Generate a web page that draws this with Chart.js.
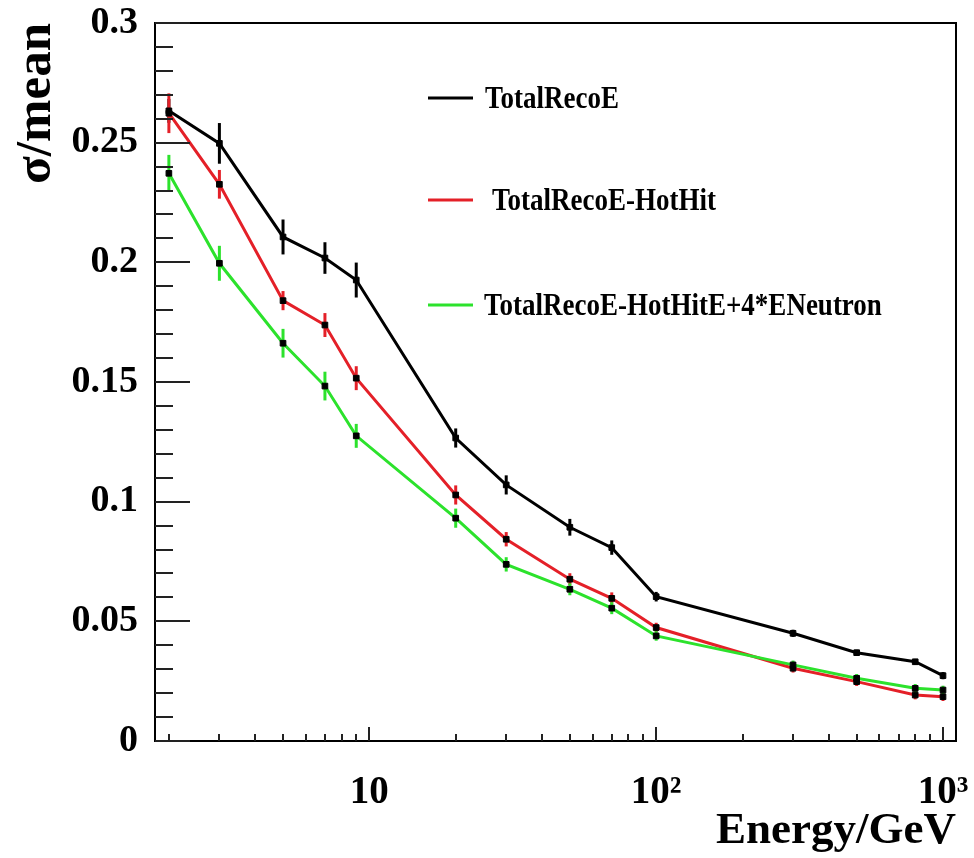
<!DOCTYPE html>
<html>
<head>
<meta charset="utf-8">
<script src="https://cdn.jsdelivr.net/npm/chart.js@4.4.1/dist/chart.umd.min.js"></script>
<style>
  html, body { margin: 0; padding: 0; background: #ffffff; }
  #wrap { width: 974px; height: 858px; }
</style>
</head>
<body>
<div id="wrap"><canvas id="c" width="974" height="858"></canvas></div>
<script>
// ---- data ----
const energies = [2, 3, 5, 7, 9, 20, 30, 50, 70, 100, 300, 500, 800, 1000];

const totalRecoE       = [0.2633, 0.2497, 0.2106, 0.2018, 0.1926, 0.1266, 0.1070, 0.0893, 0.0808, 0.0603, 0.0450, 0.0369, 0.0331, 0.0273];
const totalRecoEErr    = [0.0050, 0.0085, 0.0073, 0.0066, 0.0073, 0.0040, 0.0040, 0.0035, 0.0030, 0.0020, 0.0015, 0.0012, 0.0012, 0.0015];

const minusHotHit      = [0.2623, 0.2326, 0.1840, 0.1738, 0.1516, 0.1028, 0.0843, 0.0676, 0.0596, 0.0474, 0.0304, 0.0248, 0.0192, 0.0185];
const minusHotHitErr   = [0.0083, 0.0060, 0.0040, 0.0050, 0.0050, 0.0040, 0.0030, 0.0025, 0.0025, 0.0020, 0.0018, 0.0018, 0.0018, 0.0018];

const plusNeutron      = [0.2372, 0.1996, 0.1662, 0.1483, 0.1275, 0.0931, 0.0738, 0.0634, 0.0555, 0.0439, 0.0318, 0.0262, 0.0220, 0.0213];
const plusNeutronErr   = [0.0077, 0.0073, 0.0060, 0.0060, 0.0050, 0.0040, 0.0030, 0.0025, 0.0025, 0.0020, 0.0018, 0.0018, 0.0018, 0.0018];

const seriesNames = ['TotalRecoE', 'TotalRecoE-HotHit', 'TotalRecoE-HotHitE+4*ENeutron'];

const yTickValues = [0, 0.05, 0.1, 0.15, 0.2, 0.25, 0.3];
const yTickLabels = ['0', '0.05', '0.1', '0.15', '0.2', '0.25', '0.3'];
const xTickValues = [10, 100, 1000];
const xTickLabels = ['10', '10\u00B2', '10\u00B3'];
const yMinorStep = 0.01;
const xMinorValues = [2,3,4,5,6,7,8,9,20,30,40,50,60,70,80,90,200,300,400,500,600,700,800,900];

const xTitle = 'Energy/GeV';
const yTitle = '\u03C3/mean';

// ---- styling ----
const BLACK = '#000000';
const RED = 'rgb(228,32,40)';
const GREEN = 'rgb(44,226,44)';
const SERIF = '"Liberation Serif", "DejaVu Serif", serif';

function pts(vals) { return vals.map((v, i) => ({ x: energies[i], y: v })); }

const errPlugin = {
  id: 'errbars',
  beforeDatasetsDraw(chart) {
    const ctx = chart.ctx;
    const ys = chart.scales.y, xs = chart.scales.x;
    chart.data.datasets.forEach(ds => {
      ctx.save();
      ctx.strokeStyle = ds.borderColor;
      ctx.lineWidth = 3;
      ds.data.forEach((p, i) => {
        const e = ds.errors[i];
        const px = xs.getPixelForValue(p.x);
        ctx.beginPath();
        ctx.moveTo(px, ys.getPixelForValue(p.y - e));
        ctx.lineTo(px, ys.getPixelForValue(p.y + e));
        ctx.stroke();
      });
      ctx.restore();
    });
  }
};

const framePlugin = {
  id: 'frame',
  afterDraw(chart) {
    const ctx = chart.ctx;
    const a = chart.chartArea;
    const ys = chart.scales.y, xs = chart.scales.x;
    ctx.save();
    ctx.strokeStyle = '#000';
    ctx.lineWidth = 2;
    ctx.strokeRect(a.left, a.top, a.right - a.left, a.bottom - a.top);
    ctx.lineWidth = 2;
    ctx.strokeStyle = '#222';
    // y ticks (inside, left)
    const nMinor = Math.round((ys.max - ys.min) / yMinorStep);
    for (let k = 0; k <= nMinor; k++) {
      const v = ys.min + k * yMinorStep;
      const py = Math.round(ys.getPixelForValue(v));
      const major = (k % 5 === 0);
      ctx.beginPath();
      ctx.moveTo(a.left, py);
      ctx.lineTo(a.left + (major ? 35 : 18), py);
      ctx.stroke();
    }
    // x ticks (inside, bottom)
    xTickValues.forEach(v => {
      const px = Math.round(xs.getPixelForValue(v));
      ctx.beginPath(); ctx.moveTo(px, a.bottom); ctx.lineTo(px, a.bottom - 14); ctx.stroke();
    });
    xMinorValues.forEach(v => {
      const px = Math.round(xs.getPixelForValue(v));
      ctx.beginPath(); ctx.moveTo(px, a.bottom); ctx.lineTo(px, a.bottom - 7); ctx.stroke();
    });
    ctx.restore();

    // legend
    const leg = [
      { name: seriesNames[0], color: BLACK, y: 98, tx: 485 },
      { name: seriesNames[1], color: RED, y: 200, tx: 492 },
      { name: seriesNames[2], color: GREEN, y: 305, tx: 484 }
    ];
    ctx.save();
    leg.forEach(l => {
      ctx.strokeStyle = l.color;
      ctx.lineWidth = 3;
      ctx.beginPath(); ctx.moveTo(428, l.y); ctx.lineTo(473, l.y); ctx.stroke();
      ctx.save();
      ctx.translate(l.tx, l.y + 10);
      ctx.scale(1, 1.18);
      ctx.fillStyle = '#000';
      ctx.font = 'bold 27px ' + SERIF;
      ctx.textBaseline = 'alphabetic';
      ctx.textAlign = 'left';
      ctx.fillText(l.name, 0, 0);
      ctx.restore();
    });
    ctx.restore();
  }
};

const mk = (label, vals, errs, color, order) => ({
  label, data: pts(vals), errors: errs,
  borderColor: color, backgroundColor: color,
  borderWidth: 3, tension: 0, fill: false,
  pointStyle: 'rect', pointRadius: 4, pointHoverRadius: 4,
  pointBackgroundColor: '#000', pointBorderColor: '#000', pointBorderWidth: 1,
  order
});

function zeroPad(s) { s.paddingLeft = 0; s.paddingRight = 0; s.paddingTop = 0; s.paddingBottom = 0; }

new Chart(document.getElementById('c'), {
  type: 'line',
  data: {
    datasets: [
      mk(seriesNames[0], totalRecoE, totalRecoEErr, BLACK, 3),
      mk(seriesNames[1], minusHotHit, minusHotHitErr, RED, 2),
      mk(seriesNames[2], plusNeutron, plusNeutronErr, GREEN, 1)
    ]
  },
  options: {
    responsive: false,
    devicePixelRatio: 1,
    animation: false,
    events: [],
    layout: { autoPadding: false, padding: { top: 23, right: 18, left: 0, bottom: 0 } },
    plugins: { legend: { display: false }, tooltip: { enabled: false } },
    scales: {
      x: {
        type: 'logarithmic',
        min: 1.789, max: 1110,
        afterFit(s) { s.height = 117; zeroPad(s); },
        afterBuildTicks(s) { s.ticks = xTickValues.map(v => ({ value: v, major: true })); },
        grid: { display: false, drawTicks: false },
        border: { display: false },
        ticks: {
          autoSkip: false, maxRotation: 0, minRotation: 0,
          padding: 29, color: '#000',
          font: { family: SERIF, size: 39, weight: 'bold' },
          callback(v) { const i = xTickValues.indexOf(v); return i >= 0 ? xTickLabels[i] : ''; }
        },
        title: {
          display: true, text: xTitle, align: 'end', color: '#000',
          font: { family: SERIF, size: 45, weight: 'bold' },
          padding: { top: 0, bottom: 0 }
        }
      },
      y: {
        min: 0, max: 0.3,
        afterFit(s) { s.width = 155; zeroPad(s); },
        afterBuildTicks(s) { s.ticks = yTickValues.map(v => ({ value: v })); },
        grid: { display: false, drawTicks: false },
        border: { display: false },
        ticks: {
          padding: 17, color: '#000',
          font: { family: SERIF, size: 38, weight: 'bold' },
          callback(v) { const i = yTickValues.findIndex(t => Math.abs(t - v) < 1e-9); return i >= 0 ? yTickLabels[i] : ''; }
        },
        title: {
          display: true, text: yTitle, align: 'end', color: '#000',
          font: { family: SERIF, size: 51, weight: 'bold' },
          padding: { top: 6, bottom: 0 }
        }
      }
    }
  },
  plugins: [errPlugin, framePlugin]
});
</script>
</body>
</html>
